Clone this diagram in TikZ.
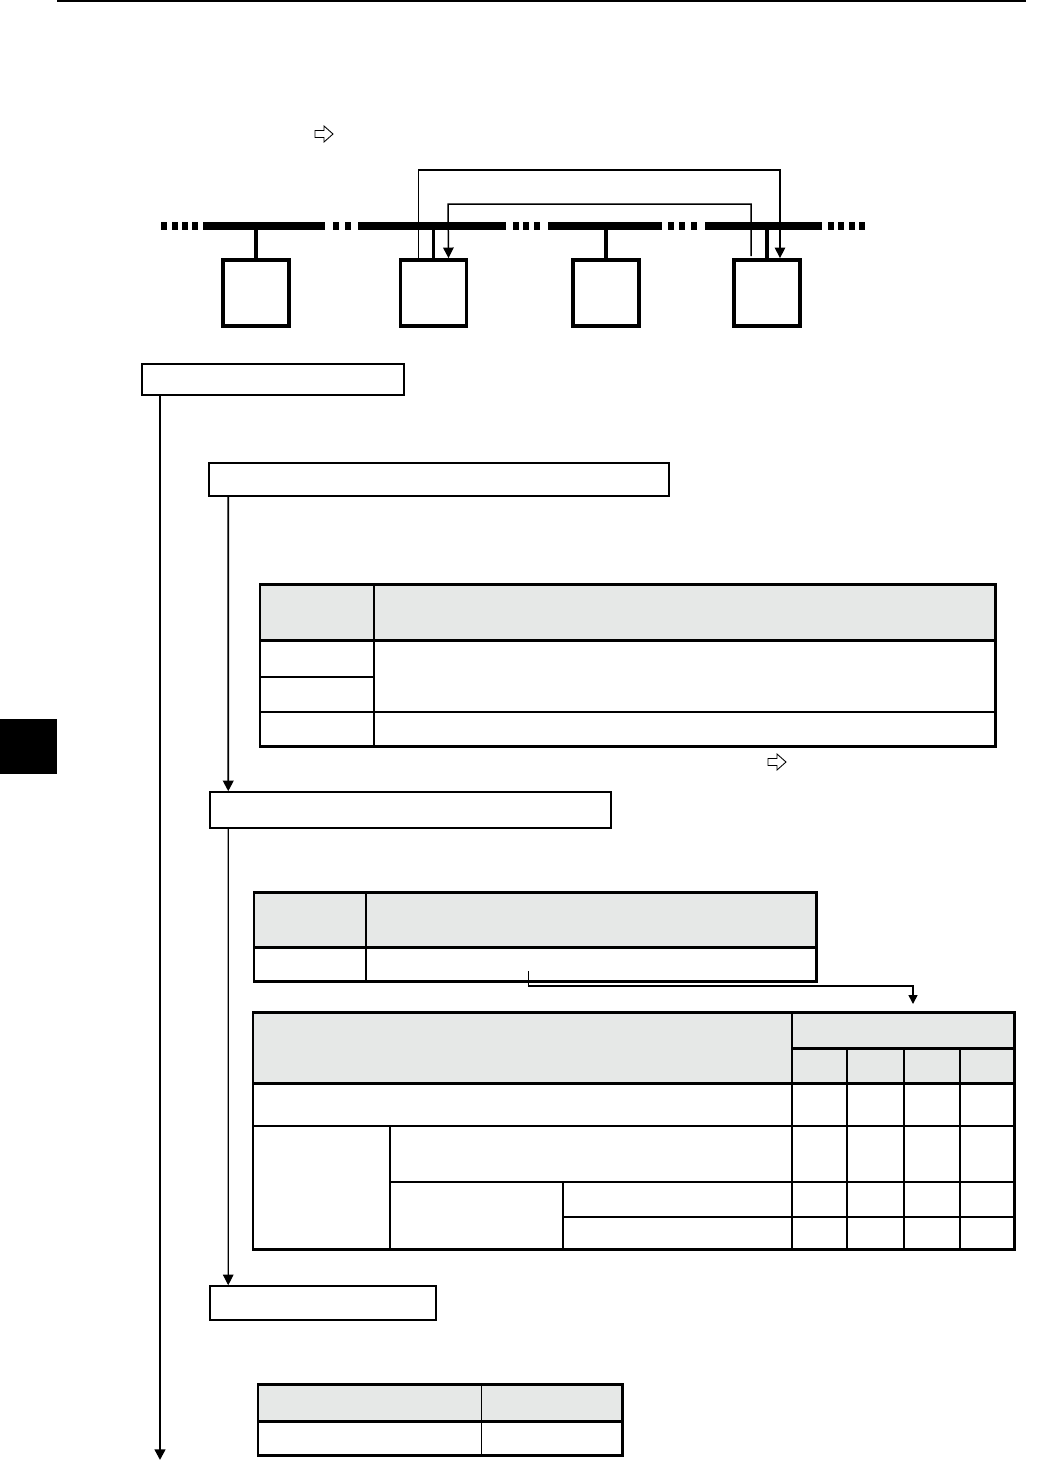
\documentclass[tikz,border=0pt]{standalone}
\usepackage{tikz}
\usetikzlibrary{arrows.meta, positioning, calc}

\definecolor{headgray}{RGB}{230,232,231}

\tikzset{
  station/.style={draw, line width=2.2pt, minimum width=1.32cm, minimum height=1.32cm, inner sep=0pt},
  flowbox/.style={draw, line width=0.9pt, inner sep=0pt},
  bus/.style={line width=4pt},
  stub/.style={line width=2.2pt},
  loop/.style={line width=0.85pt},
  flow/.style={-{Triangle[width=6pt,length=6pt]}},
  tblout/.style={line width=1.7pt},
  tblin/.style={line width=0.7pt},
  hollowarrow/.pic={
    \draw[line width=0.5pt, line join=miter] (-9,-3.5) -- (0,-3.5) -- (0,-8) -- (9,0) -- (0,8) -- (0,3.5) -- (-9,3.5) -- cycle;
  }
}

\begin{document}
\begin{tikzpicture}[x=0.02cm, y=-0.02cm, >=Stealth]
    \useasboundingbox (0,0) rectangle (1048,1461);

    % --- Page header rule and side tab ---
    \draw[line width=0.9pt] (57,1) -- (1026,1);
    \fill[black] (0,719) rectangle (57,774);
    \pic at (324,134) {hollowarrow};

    % --- Network bus ---
    \foreach \a/\b in {203/325, 358/506, 548/662, 705/822} {
      \draw[bus] (\a,226) -- (\b,226);
    }
    \foreach \a in {161, 172, 182, 192, 333, 345, 513, 523, 534, 668, 679, 691, 828, 838, 849, 859} {
      \draw[bus] (\a,226) -- ++(6,0);
    }

    % Stations on the bus
    \foreach \i/\x in {1/256, 2/433.5, 3/606, 4/767} {
      \node[station] (st\i) at (\x,293) {};
      \draw[stub] (st\i.north) -- (\x,226);
    }

    % Transfer loops between stations
    \draw[loop, flow] ($(st2.north)+(-15,0)$) |- (780,170) -- ($(st4.north)+(13,0)$);
    \draw[loop, flow] ($(st4.north)+(-16,-2)$) |- (448,204) -- ($(st2.north)+(15,0)$);

    % --- Flow boxes ---
    \node[flowbox, minimum width=5.24cm, minimum height=0.62cm] (boxA) at (273,379.5) {};
    \node[flowbox, minimum width=9.2cm, minimum height=0.66cm] (boxB) at (439,479.5) {};
    \node[flowbox, minimum width=8.02cm, minimum height=0.72cm] (boxC) at (410.5,810) {};
    \node[flowbox, minimum width=4.52cm, minimum height=0.68cm] (boxD) at (323,1303) {};

    \coordinate (mainEnd) at (160,1460);
    \draw[line width=1.3pt, flow] (boxA.south -| mainEnd) -- (mainEnd);
    \draw[line width=1.1pt, flow] ($(boxB.south west)+(20,0)$) -- ($(boxC.north west)+(19,0)$);
    \draw[line width=0.6pt, flow] ($(boxC.south west)+(19,0)$) -- ($(boxD.north west)+(19,0)$);

    % --- Table 1 ---
    \fill[headgray] (260,584) rectangle (995,640);
    \draw[tblin] (374,584) -- (374,746);
    \draw[tblin] (260,677) -- (374,677);
    \draw[tblin] (260,712) -- (995,712);
    \draw[tblout] (260,640) -- (995,640);
    \draw[tblout] (260,584) rectangle (995,746);
    \pic at (777,762) {hollowarrow};

    % --- Table 2 ---
    \fill[headgray] (254,892) rectangle (816,947);
    \draw[tblin] (366,892) -- (366,981);
    \draw[tblout] (254,947) -- (816,947);
    \draw[tblout] (254,892) rectangle (816,981);

    % Reference from table 2 to table 3
    \coordinate (refStart) at (528.5,971);
    \coordinate (refEnd) at (913,1004);
    \draw[line width=0.9pt, -{Triangle[width=5pt,length=5pt]}] (refStart) |- (913,986) -- (refEnd);

    % --- Table 3 ---
    \fill[headgray] (253,1012) rectangle (1014,1083);
    \draw[tblin] (792,1012) -- (792,1249);
    \foreach \x in {847, 904, 960} {
      \draw[tblin] (\x,1048) -- (\x,1249);
    }
    \draw[tblout] (792,1048) -- (1014,1048);
    \draw[tblout] (253,1083) -- (1014,1083);
    \draw[tblin] (253,1126) -- (1014,1126);
    \draw[tblin] (390,1182) -- (1014,1182);
    \draw[tblin] (563,1217) -- (1014,1217);
    \draw[tblin] (390,1126) -- (390,1249);
    \draw[tblin] (563,1182) -- (563,1249);
    \draw[tblout] (253,1012) rectangle (1014,1249);

    % --- Table 4 ---
    \fill[headgray] (258,1384) rectangle (622.5,1421);
    \draw[tblin] (481.5,1384) -- (481.5,1455);
    \draw[tblout] (258,1421) -- (622.5,1421);
    \draw[tblout] (258,1384) rectangle (622.5,1455);

\end{tikzpicture}
\end{document}
